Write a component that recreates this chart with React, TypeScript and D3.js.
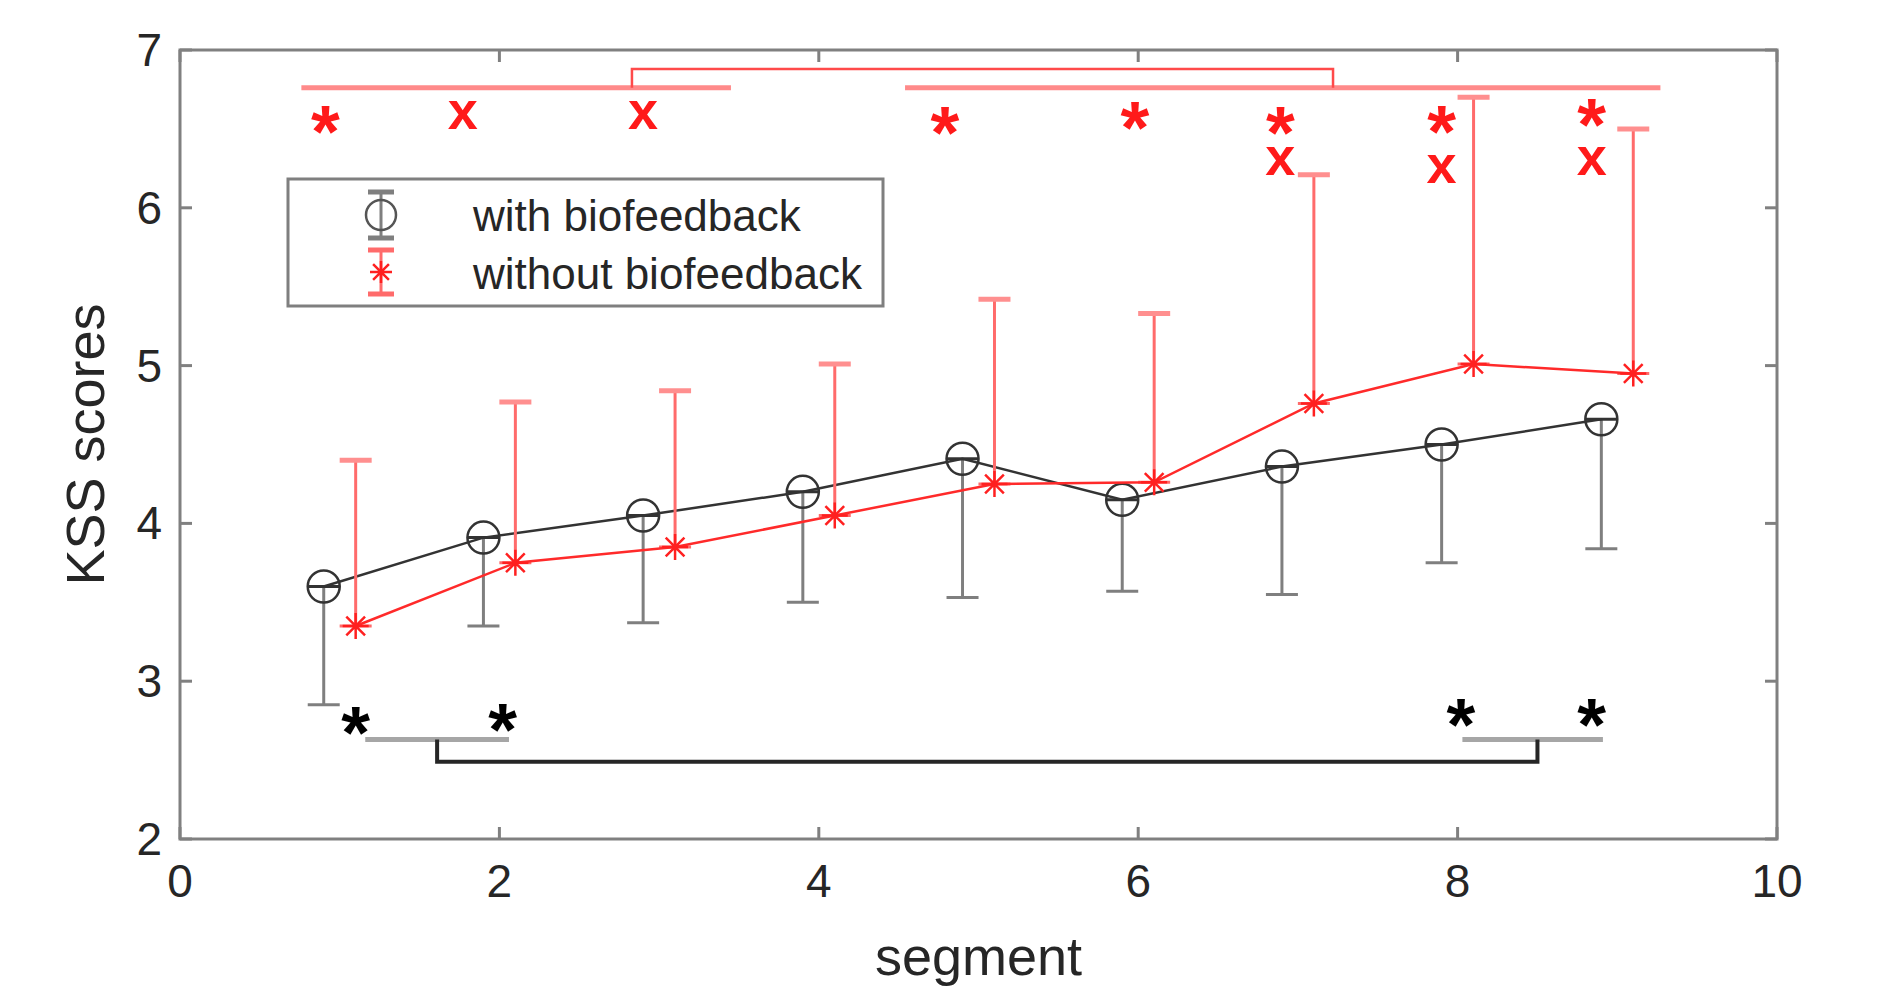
import React from 'react';
import * as d3 from 'd3';

// data
const segments = [1, 2, 3, 4, 5, 6, 7, 8, 9];
const withMean = [3.6, 3.91, 4.05, 4.2, 4.41, 4.15, 4.36, 4.5, 4.66];
const withLower = [2.85, 3.35, 3.37, 3.5, 3.53, 3.57, 3.55, 3.75, 3.84];
const withoutMean = [3.35, 3.75, 3.85, 4.05, 4.25, 4.26, 4.76, 5.01, 4.95];
const withoutUpper = [4.4, 4.77, 4.84, 5.01, 5.42, 5.33, 6.21, 6.7, 6.5];

const xTicks = [0, 2, 4, 6, 8, 10];
const yTicks = [2, 3, 4, 5, 6, 7];

// red significance marks above the curves: star and/or cross per position
const topMarks = [
  { x: 0.91, star: 6.55, cross: null },
  { x: 1.77, star: null, cross: 6.6 },
  { x: 2.9, star: null, cross: 6.6 },
  { x: 4.79, star: 6.54, cross: null },
  { x: 5.98, star: 6.57, cross: null },
  { x: 6.89, star: 6.54, cross: 6.31 },
  { x: 7.9, star: 6.55, cross: 6.26 },
  { x: 8.84, star: 6.59, cross: 6.31 },
];
const bottomMarks = [
  { x: 1.1, y: 2.74 },
  { x: 2.02, y: 2.76 },
  { x: 8.02, y: 2.79 },
  { x: 8.84, y: 2.79 },
];
const topRanges = [
  { x1: 0.76, x2: 3.45 },
  { x1: 4.54, x2: 9.27 },
];
const bottomRanges = [
  { x1: 1.16, x2: 2.06 },
  { x1: 8.03, x2: 8.91 },
];

const W = 1879;
const H = 989;
const margin = { left: 180, right: W - 1777, top: 50, bottom: H - 839 };
const font = '"Liberation Sans", Arial, sans-serif';
const textColor = '#262626';
const starSize = 74;
const crossSize = 54;

const starPath = (r: number) => {
  const d = r * 0.72;
  return `M${-r},0H${r}M0,${-r}V${r}M${-d},${-d}L${d},${d}M${-d},${d}L${d},${-d}`;
};

const App = () => {
  const x = d3.scaleLinear().domain([0, 10]).range([margin.left, W - margin.right]);
  const y = d3.scaleLinear().domain([2, 7]).range([H - margin.bottom, margin.top]);

  const withPts = segments.map((s, i) => [s - 0.1, withMean[i]] as [number, number]);
  const withoutPts = segments.map((s, i) => [s + 0.1, withoutMean[i]] as [number, number]);
  const line = d3.line<[number, number]>().x(d => x(d[0])).y(d => y(d[1]));

  const cap = 16;
  const x0 = x(0), x1 = x(10), y0 = y(2), y1 = y(7);
  const tickLen = 12;

  const topY = y(6.76), bracketY = y(6.88);
  const grayY = y(2.63), blackY = y(2.49);

  return (
    <svg width={W} height={H} style={{ position: 'absolute', left: 0, top: 0, background: '#fff' }}>
      {/* ticks on all sides */}
      <g stroke="#808080" strokeWidth={3}>
        {xTicks.map(t => (
          <g key={'xt' + t}>
            <line x1={x(t)} x2={x(t)} y1={y0} y2={y0 - tickLen} />
            <line x1={x(t)} x2={x(t)} y1={y1} y2={y1 + tickLen} />
          </g>
        ))}
        {yTicks.map(t => (
          <g key={'yt' + t}>
            <line x1={x0} x2={x0 + tickLen} y1={y(t)} y2={y(t)} />
            <line x1={x1} x2={x1 - tickLen} y1={y(t)} y2={y(t)} />
          </g>
        ))}
      </g>

      {/* significance annotations, top */}
      <g fill="none">
        {topRanges.map((r, i) => (
          <line key={'tr' + i} x1={x(r.x1)} x2={x(r.x2)} y1={topY} y2={topY} stroke="#ff8a8a" strokeWidth={5} />
        ))}
        <path
          d={`M${x(2.83)},${topY}V${bracketY}H${x(7.22)}V${topY}`}
          stroke="#ff4a4a"
          strokeWidth={2.5}
        />
      </g>
      {topMarks.map((m, i) => (
        <text key={'tm' + i} fill="#ff1a1a" fontFamily={font} fontWeight="bold" textAnchor="middle">
          {m.star !== null && (
            <tspan x={x(m.x)} y={y(m.star) + starSize * 0.48} fontSize={starSize}>
              *
            </tspan>
          )}
          {m.cross !== null && (
            <tspan x={x(m.x)} y={y(m.cross) + crossSize * 0.3} fontSize={crossSize}>
              x
            </tspan>
          )}
        </text>
      ))}

      {/* significance annotations, bottom */}
      <g fill="none">
        {bottomRanges.map((r, i) => (
          <line key={'br' + i} x1={x(r.x1)} x2={x(r.x2)} y1={grayY} y2={grayY} stroke="#a6a6a6" strokeWidth={5} />
        ))}
        <path d={`M${x(1.61)},${grayY}V${blackY}H${x(8.5)}V${grayY}`} stroke="#262626" strokeWidth={4} />
      </g>
      {bottomMarks.map((m, i) => (
        <text
          key={'bm' + i}
          x={x(m.x)}
          y={y(m.y) + starSize * 0.48}
          fill="#000"
          fontFamily={font}
          fontWeight="bold"
          fontSize={starSize}
          textAnchor="middle"
        >
          *
        </text>
      ))}

      {/* with biofeedback: lower error bars */}
      <g stroke="#7f7f7f" strokeWidth={3}>
        {withPts.map((p, i) => (
          <g key={'we' + i}>
            <line x1={x(p[0])} x2={x(p[0])} y1={y(p[1])} y2={y(withLower[i])} />
            <line x1={x(p[0]) - cap} x2={x(p[0]) + cap} y1={y(withLower[i])} y2={y(withLower[i])} />
            <line x1={x(p[0]) - cap} x2={x(p[0]) + cap} y1={y(p[1])} y2={y(p[1])} stroke="#333" />
          </g>
        ))}
      </g>
      <path d={line(withPts) ?? ''} fill="none" stroke="#333" strokeWidth={2.5} />
      {withPts.map((p, i) => (
        <circle key={'wc' + i} cx={x(p[0])} cy={y(p[1])} r={16} fill="none" stroke="#333" strokeWidth={2.5} />
      ))}

      {/* without biofeedback: upper error bars */}
      <g stroke="#ff6b6b" strokeWidth={3}>
        {withoutPts.map((p, i) => (
          <g key={'oe' + i}>
            <line x1={x(p[0])} x2={x(p[0])} y1={y(p[1])} y2={y(withoutUpper[i])} />
            <line x1={x(p[0]) - cap} x2={x(p[0]) + cap} y1={y(withoutUpper[i])} y2={y(withoutUpper[i])} stroke="#ff8f8f" strokeWidth={5} />
            <line x1={x(p[0]) - cap} x2={x(p[0]) + cap} y1={y(p[1])} y2={y(p[1])} />
          </g>
        ))}
      </g>
      <path d={line(withoutPts) ?? ''} fill="none" stroke="#ff2a2a" strokeWidth={2.5} />
      {withoutPts.map((p, i) => (
        <path
          key={'os' + i}
          transform={`translate(${x(p[0])},${y(p[1])})`}
          d={starPath(13)}
          fill="none"
          stroke="#ff2020"
          strokeWidth={2.5}
        />
      ))}

      {/* axes box */}
      <rect x={x0} y={y1} width={x1 - x0} height={y0 - y1} fill="none" stroke="#808080" strokeWidth={3} />

      {/* tick labels */}
      <g fontFamily={font} fontSize={46} fill={textColor}>
        {xTicks.map(t => (
          <text key={'xl' + t} x={x(t)} y={y0 + 58} textAnchor="middle">
            {t}
          </text>
        ))}
        {yTicks.map(t => (
          <text key={'yl' + t} x={x0 - 18} y={y(t) + 16} textAnchor="end">
            {t}
          </text>
        ))}
      </g>
      <text x={(x0 + x1) / 2} y={H - 14} textAnchor="middle" fontFamily={font} fontSize={54} fill={textColor}>
        segment
      </text>
      <text
        transform={`translate(104,${(y0 + y1) / 2}) rotate(-90)`}
        textAnchor="middle"
        fontFamily={font}
        fontSize={54}
        fill={textColor}
      >
        KSS scores
      </text>

      {/* legend */}
      <g>
        <rect x={288} y={179} width={595} height={127} fill="#fff" stroke="#7f7f7f" strokeWidth={3} />
        <g stroke="#7f7f7f" strokeWidth={3}>
          <line x1={381} x2={381} y1={192} y2={238} />
          <line x1={368} x2={394} y1={192} y2={192} strokeWidth={5} />
          <line x1={368} x2={394} y1={238} y2={238} strokeWidth={5} />
        </g>
        <circle cx={381} cy={215} r={15} fill="none" stroke="#555" strokeWidth={2.5} />
        <g stroke="#ff6b6b" strokeWidth={3}>
          <line x1={381} x2={381} y1={250} y2={294} />
          <line x1={368} x2={394} y1={250} y2={250} strokeWidth={5} />
          <line x1={368} x2={394} y1={294} y2={294} strokeWidth={5} />
        </g>
        <path transform="translate(381,272)" d={starPath(11)} fill="none" stroke="#ff2020" strokeWidth={2.5} />
        <g fontFamily={font} fontSize={44} fill={textColor}>
          <text x={473} y={231}>with biofeedback</text>
          <text x={473} y={289}>without biofeedback</text>
        </g>
      </g>
    </svg>
  );
};

export default App;
